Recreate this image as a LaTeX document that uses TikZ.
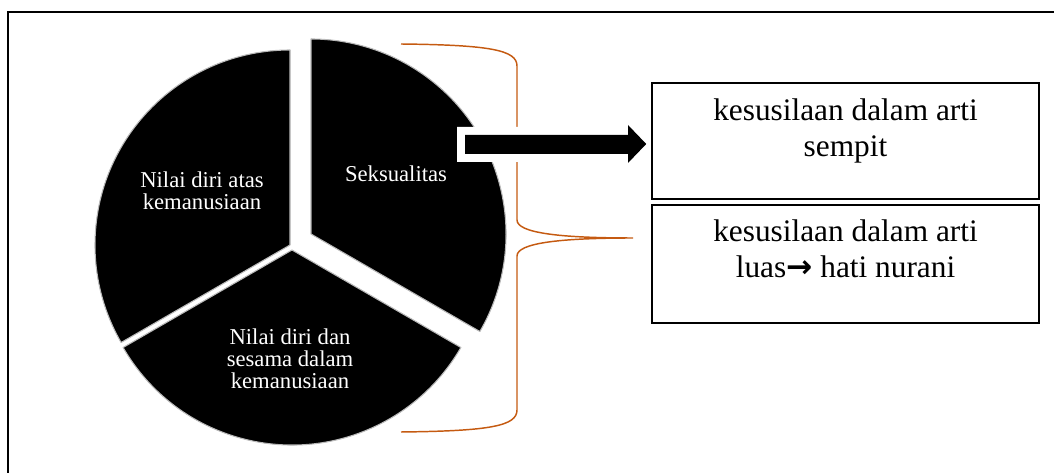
\documentclass[tikz,border=0pt]{standalone}
\usepackage{fontspec}
\setmainfont{Liberation Serif}
\newfontfamily\panahfont{DejaVu Sans}
\usepackage{tikz}
\usetikzlibrary{positioning, calc}
\definecolor{oranye}{RGB}{197,90,17}
\tikzstyle{irisan}     = [fill=black, draw=gray!55, line width=0.8pt, line join=round]
\tikzstyle{teksirisan} = [text=white, align=center, font=\fontsize{17}{16.5}\selectfont]
\tikzstyle{kotak}      = [rectangle, draw, line width=1.4pt, minimum width=290pt, minimum height=87pt]
\tikzstyle{tekskotak}  = [align=center, inner sep=0pt, font=\fontsize{23.5}{27}\selectfont]
\tikzstyle{kurung}     = [draw=oranye, line width=1.1pt]
\tikzstyle{panah}      = [fill=black, preaction={draw=white, line width=12pt, line join=miter}]

\begin{document}
\begin{tikzpicture}[x=0.75pt, y=0.75pt]
    \useasboundingbox (0,0) rectangle (1054,-473);
    % bingkai
    \draw[line width=2pt] (8,-473) -- (8,-12) -- (1054,-12);

    % tiga irisan pai
    \def\jari{195}
    \coordinate (pKiri) at (290,-245);
    \coordinate (pBawah) at (292,-250);
    \coordinate (pKanan) at (311,-234);
    \filldraw[irisan] (pKiri) -- ++(90:\jari) arc (90:210:\jari) -- cycle;
    \filldraw[irisan] (pBawah) -- ++(210:\jari) arc (210:330:\jari) -- cycle;
    \filldraw[irisan] (pKanan) -- ++(-30:\jari) arc (-30:90:\jari) -- cycle;

    \node (kiri) [teksirisan] at (202,-191) {Nilai diri atas\\kemanusiaan};
    \node (kanan) [teksirisan] at (396,-174) {Seksualitas};
    \node (bawah) [teksirisan] at (290,-359) {Nilai diri dan\\sesama dalam\\kemanusiaan};

    % kurung kurawal
    \coordinate (ujung) at (633,-238);
    \draw[kurung] (401,-44) .. controls (490,-45) and (517,-50) .. (517,-66)
        -- (517,-220) .. controls (517,-233) and (560,-238) .. (ujung)
        .. controls (560,-238) and (517,-243) .. (517,-256)
        -- (517,-410) .. controls (517,-426) and (490,-431) .. (401,-432);

    % kotak kanan
    \node (kotak1) [kotak] at (845.5,-141) {};
    \node (kotak2) [kotak, below=3pt of kotak1, minimum height=88.5pt] {};
    \node (teks1) [tekskotak, below=12pt of kotak1.north] {kesusilaan dalam arti\\sempit};
    \node (teks2) [tekskotak, below=12pt of kotak2.north] {kesusilaan dalam arti\\luas{\panahfont\bfseries →} hati nurani};

    % panah blok
    \path[panah] (465,-135) -- (628,-135) -- (628,-125) -- ($(kotak1.west)+(-5,-3)$)
        -- (628,-163) -- (628,-154) -- (465,-154) -- cycle;
    \node[kotak] at (kotak1) {};
\end{tikzpicture}
\end{document}
